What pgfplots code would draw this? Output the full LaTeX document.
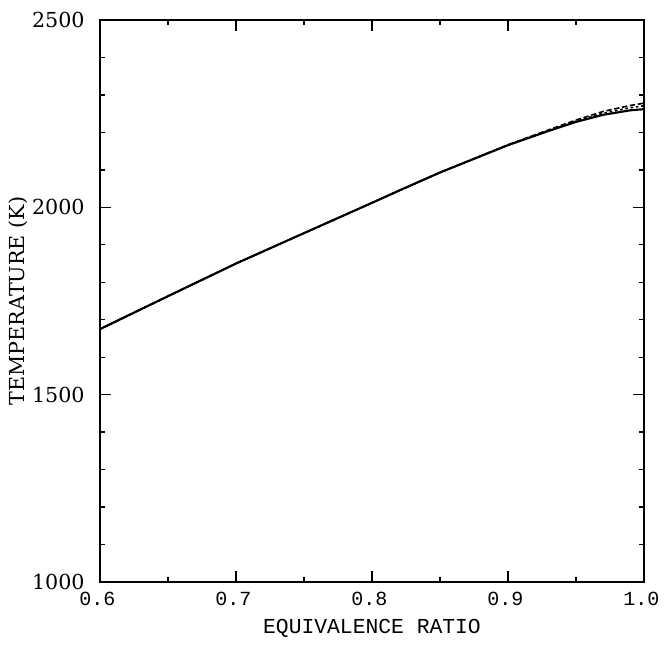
\documentclass[border=0pt]{standalone}
\usepackage{pgfplots}
\pgfplotsset{compat=1.18}
\usepackage{fontspec}
\setmainfont{DejaVu Serif}
\newfontfamily\ymono{Liberation Mono}
\newfontfamily\yser{DejaVu Serif}
\begin{document}
\begin{tikzpicture}
\begin{axis}[
  scale only axis,
  width=408pt, height=421.5pt,
  xmin=0.6, xmax=1.0, ymin=1000, ymax=2500,
  xtick={0.6,0.7,0.8,0.9,1.0},
  minor xtick={0.65,0.75,0.85,0.95},
  ytick={1000,1500,2000,2500},
  minor ytick={1100,1200,1300,1400,1600,1700,1800,1900,2100,2200,2300,2400},
  xticklabels={0.6,0.7,0.8,0.9,1.0},
  yticklabels={1000,1500,2000,2500},
  tick align=inside,
  major tick length=8pt, minor tick length=4pt,
  every tick/.style={black, line width=1pt},
  axis line style={line width=1.4pt},
  xticklabel style={font=\fontsize{15}{16}\ymono, yshift=-4pt, xshift=-2pt},
  yticklabel style={font=\fontsize{15.5}{16}\yser, xshift=-8pt},
  xlabel={EQUIVALENCE RATIO},
  ylabel={TEMPERATURE (K)},
  xlabel style={font=\fontsize{16}{18}\ymono, at={(axis description cs:0.5,-0.082)}, anchor=center},
  ylabel style={font=\fontsize{15.5}{18}\yser, at={(axis description cs:-0.151,0.5)}, anchor=center},
  clip=true,
]
\addplot[black, line width=1.6pt] coordinates {
(0.60,1675) (0.65,1763) (0.70,1850) (0.74,1915) (0.80,2012) (0.82,2045) (0.85,2093) (0.90,2166) (0.93,2204) (0.95,2228) (0.97,2247) (0.99,2259) (1.00,2262)
};
\addplot[black, line width=1.2pt, dash pattern=on 4pt off 2pt] coordinates {
(0.60,1675) (0.70,1850) (0.80,2012) (0.85,2093) (0.90,2167) (0.93,2207) (0.95,2233) (0.97,2256) (0.99,2272) (1.00,2278)
};
\addplot[black, line width=1.2pt, dash pattern=on 2pt off 2pt] coordinates {
(0.60,1675) (0.70,1850) (0.80,2012) (0.85,2093) (0.90,2166) (0.93,2205) (0.95,2230) (0.97,2251) (0.99,2266) (1.00,2271)
};
\coordinate (sw) at (rel axis cs:0,0);
\coordinate (ne) at (rel axis cs:1,1);
\end{axis}
\pgfresetboundingbox
\path[use as bounding box] ([shift={(-75pt,-46.5pt)}]sw) rectangle ([shift={(15pt,15pt)}]ne);
\end{tikzpicture}
\end{document}
